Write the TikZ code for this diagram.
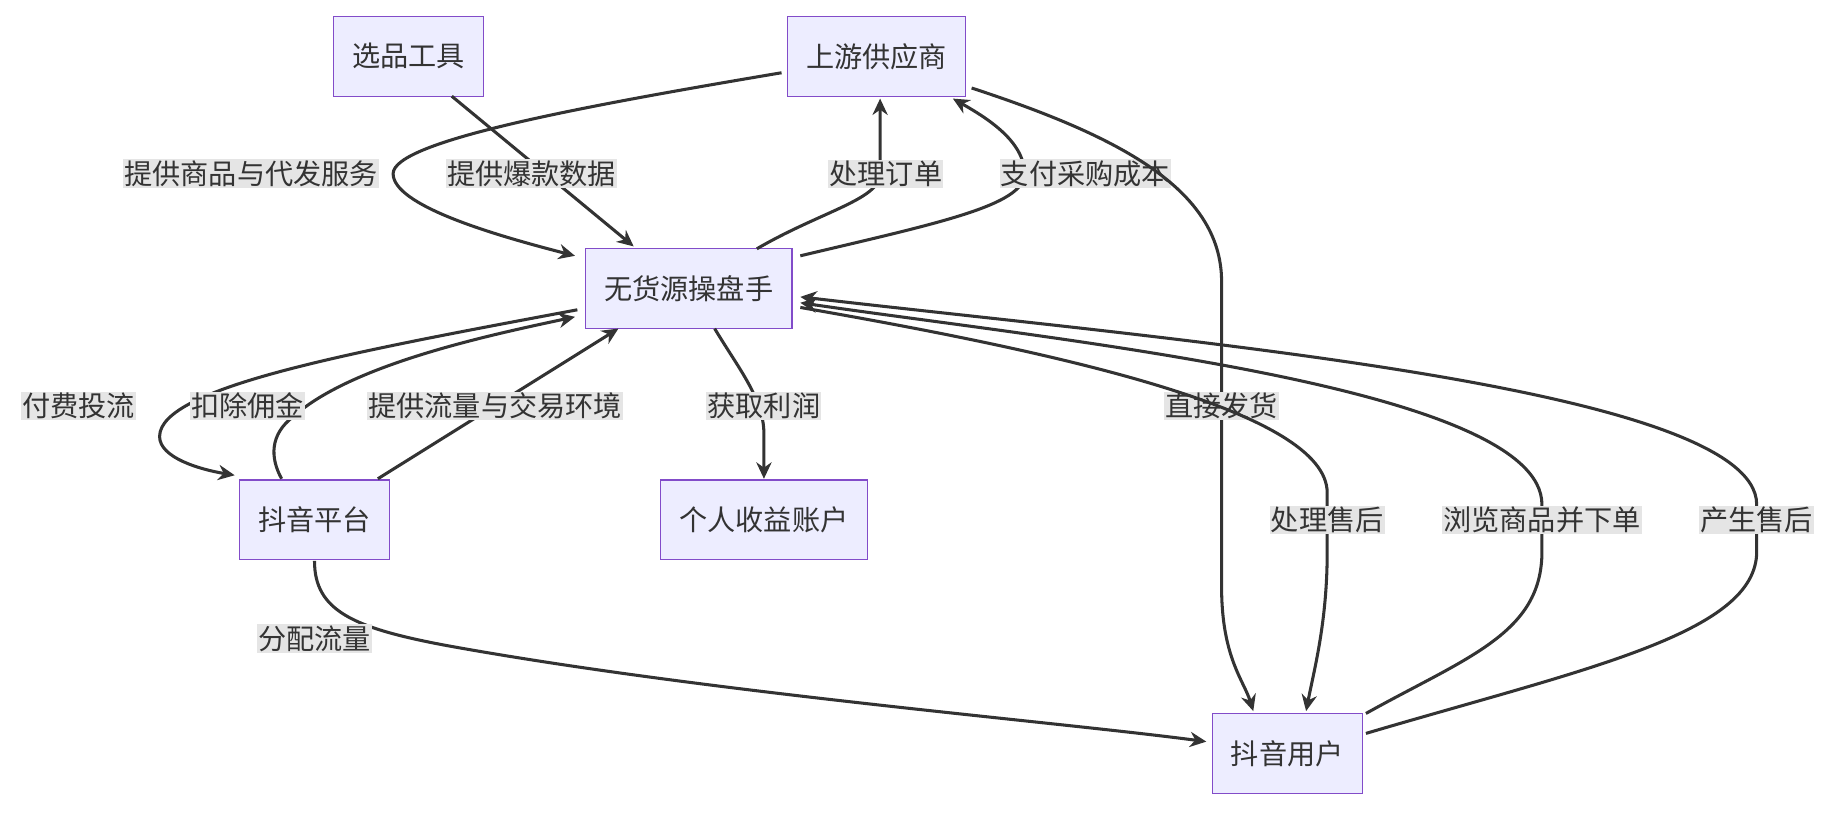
\documentclass[tikz,border=0pt]{standalone}
\usepackage{fontspec}
\setmainfont{Noto Sans CJK SC}
\usetikzlibrary{arrows.meta}
\begin{document}
\begin{tikzpicture}[x=1pt,y=-1pt,
  box/.style={draw=violet!60!blue!70,fill=blue!7,line width=1.2pt,font=\fontsize{24}{27}\selectfont,text=black!80,minimum height=68pt,inner xsep=16pt},
  lab/.style={fill=black!10,font=\fontsize{24}{27}\selectfont,text=black!80,inner sep=1pt},
  e/.style={draw=black!80,line width=2.6pt,-{Stealth[length=14pt,width=13pt]}}]
\useasboundingbox (0,0) rectangle (1568,692);
\node[box] (xp) at (348,48) {选品工具};
\node[box] (sy) at (747,48) {上游供应商};
\node[box] (wh) at (587,246) {无货源操盘手};
\node[box] (pt) at (268,443) {抖音平台};
\node[box] (sy2) at (651,443) {个人收益账户};
\node[box] (yh) at (1097,642) {抖音用户};
% 1
\draw[e] (666,62) .. controls (500,90) and (335,120) .. (335,148) .. controls (335,175) and (420,200) .. (490,218);
\node[lab] (l1) at (214,148) {提供商品与代发服务};
% 2
\draw[e] (385,82) -- (540,210);
\node[lab] (l2) at (453,148) {提供爆款数据};
% 3
\draw[e] (645,212) .. controls (700,180) and (750,170) .. (750,148) -- (750,84);
\node[lab] (l3) at (755,148) {处理订单};
% 4
\draw[e] (682,218) .. controls (800,190) and (873,175) .. (873,148) .. controls (873,120) and (840,100) .. (812,84);
\node[lab] (l4) at (925,148) {支付采购成本};
% 5
\draw[e] (828,75) .. controls (950,115) and (1041,160) .. (1041,240) -- (1041,500) .. controls (1041,560) and (1060,580) .. (1068,606);
\node[lab] (l5) at (1041,346) {直接发货};
% 6
\draw[e] (492,264) .. controls (300,300) and (136,330) .. (136,372) .. controls (136,390) and (170,400) .. (200,405);
\node[lab] (l6) at (67,346) {付费投流};
% 7
\draw[e] (240,408) .. controls (230,390) and (230,370) .. (250,355) .. controls (300,310) and (420,285) .. (490,270);
\node[lab] (l7) at (211,346) {扣除佣金};
% 8
\draw[e] (322,408) -- (527,280);
\node[lab] (l8) at (422,346) {提供流量与交易环境};
% 9
\draw[e] (609,280) .. controls (630,315) and (651,340) .. (651,370) -- (651,408);
\node[lab] (l9) at (651,346) {获取利润};
% 10
\draw[e] (682,262) .. controls (900,300) and (1131,350) .. (1131,420) -- (1131,470) .. controls (1131,530) and (1120,570) .. (1113,606);
\node[lab] (l10) at (1131,443) {处理售后};
% 11
\draw[e] (1164,608) .. controls (1250,560) and (1314,540) .. (1314,470) -- (1314,430) .. controls (1314,330) and (900,290) .. (682,258);
\node[lab] (l11) at (1314,443) {浏览商品并下单};
% 12
\draw[e] (1164,625) .. controls (1350,570) and (1497,540) .. (1497,470) -- (1497,430) .. controls (1497,330) and (1000,290) .. (682,253);
\node[lab] (l12) at (1497,443) {产生售后};
% 13
\draw[e] (268,478) .. controls (268,520) and (300,535) .. (380,550) .. controls (600,590) and (900,615) .. (1028,632);
\node[lab] (l13) at (268,544) {分配流量};
\end{tikzpicture}
\end{document}
